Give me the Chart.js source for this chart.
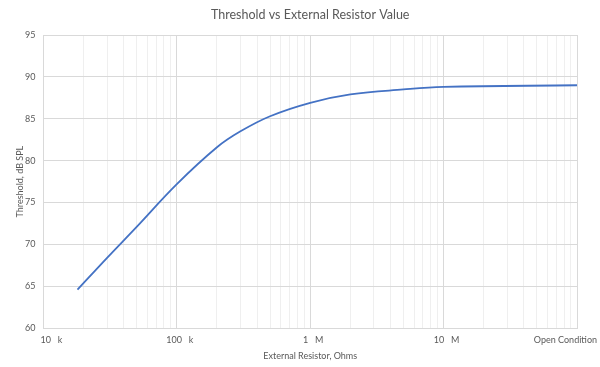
<!DOCTYPE html>
<html>
<head>
<meta charset="utf-8">
<script src="https://cdn.jsdelivr.net/npm/chart.js@4.4.1/dist/chart.umd.min.js"></script>
<style>
  html, body { margin: 0; padding: 0; background: #fff; }
  #wrap { width: 600px; height: 367px; }
</style>
</head>
<body>
<div id="wrap"><canvas id="chart"></canvas></div>
<script>
// Messwerte (Widerstand in Ohm, Schwelle in dB SPL)
const resistance = [18e3, 3e4, 5e4, 1e5, 2e5, 3e5, 5e5, 1e6, 2e6, 5e6, 1e7, 1e8];
const threshold  = [64.6, 68.4, 72.1, 77.2, 81.6, 83.5, 85.3, 86.9, 87.9, 88.5, 88.8, 89.0];

const xTickValues = [1e4, 1e5, 1e6, 1e7, 1e8];
const xTickLabels = ['10   k', '100   k', '1   M', '10   M', 'Open Condition'];

const FONT = "Lato, 'Open Sans', sans-serif";
const TEXT = '#595959';

// minor + major grid ticks per decade
const logTicks = [];
for (let e = 4; e < 8; e++) {
    for (let m = 1; m < 10; m++) logTicks.push(m * Math.pow(10, e));
}
logTicks.push(1e8);

const isMajor = v => Math.abs(Math.log10(v) - Math.round(Math.log10(v))) < 1e-9;

// eigene Achsenbeschriftung (Excel-artig an den Rändern eingerückt)
const axisTextPlugin = {
    id: 'axisText',
    afterDraw(chart) {
        const { ctx, chartArea } = chart;
        const xs = chart.scales.x;
        ctx.save();
        ctx.fillStyle = TEXT;
        ctx.font = `9px ${FONT}`;
        ctx.textBaseline = 'middle';
        xTickValues.forEach((v, i) => {
            let px = xs.getPixelForValue(v);
            if (i === 0) { ctx.textAlign = 'left'; px -= 3; }
            else if (i === xTickValues.length - 1) { ctx.textAlign = 'right'; px = chart.width - 3; }
            else { ctx.textAlign = 'center'; px += 3; }
            ctx.fillText(xTickLabels[i], px, chartArea.bottom + 12);
        });

        // Y-Achsentitel
        ctx.translate(chartArea.left - 23, (chartArea.top + chartArea.bottom) / 2);
        ctx.rotate(-Math.PI / 2);
        ctx.textAlign = 'center';
        ctx.fillText('Threshold, dB SPL', 0, 0);
        ctx.restore();
    }
};

new Chart(document.getElementById('chart'), {
    type: 'line',
    plugins: [axisTextPlugin],
    data: {
        datasets: [{
            data: resistance.map((r, i) => ({ x: r, y: threshold[i] })),
            borderColor: '#4472C4',
            borderWidth: 1.8,
            pointRadius: 0,
            tension: 0.4,
            fill: false,
        }]
    },
    options: {
        responsive: true,
        maintainAspectRatio: false,
        animation: false,
        layout: { padding: { left: 17, right: 23, top: 3, bottom: 6 } },
        plugins: {
            legend: { display: false },
            tooltip: { enabled: false },
            title: {
                display: true,
                fullSize: false,
                text: 'Threshold vs External Resistor Value',
                color: TEXT,
                font: { family: FONT, size: 12.5, weight: 'normal' },
                padding: { top: 4, bottom: 13 },
            }
        },
        scales: {
            x: {
                type: 'logarithmic',
                min: 1e4,
                max: 1e8,
                afterBuildTicks(scale) {
                    scale.ticks = logTicks.map(v => ({ value: v, major: isMajor(v) }));
                },
                grid: {
                    drawTicks: false,
                    color: ctx => (ctx.tick && ctx.tick.major) ? '#d9d9d9' : '#efefef',
                },
                border: { color: '#d9d9d9' },
                ticks: { display: false, autoSkip: false },
                title: {
                    display: true,
                    text: 'External Resistor, Ohms',
                    color: TEXT,
                    font: { family: FONT, size: 9 },
                    padding: { top: 22, bottom: 0 },
                }
            },
            y: {
                min: 60,
                max: 95,
                ticks: {
                    stepSize: 5,
                    color: TEXT,
                    font: { family: FONT, size: 9 },
                    padding: 8,
                },
                grid: { color: '#d9d9d9', drawTicks: false },
                border: { color: '#d9d9d9' },
            }
        }
    }
});
</script>
</body>
</html>
